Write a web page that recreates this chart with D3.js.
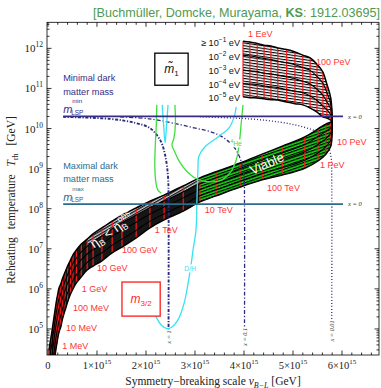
<!DOCTYPE html>
<html>
<head>
<meta charset="utf-8">
<script src="https://cdn.jsdelivr.net/npm/d3@7/dist/d3.min.js"></script>
<style>
  html, body { margin: 0; padding: 0; background: #ffffff; }
  svg { display: block; }
</style>
</head>
<body>
<svg id="chart" width="381" height="388"></svg>
<script>
// ---------------- data ----------------
// gravitino mass grid (GeV) along each band curve
const gravitinoMass = [1e-4,2e-4,5e-4,1e-3,2e-3,5e-3,1e-2,2e-2,5e-2,0.1,0.2,0.5,1,2,5,10,20,50,100,200,500,
  1e3,2e3,5e3,1e4,2e4,5e4,1e5,2e5,5e5,1e6,2e6,5e6,
  1e7,2e7,3e7,5e7,7e7,1e8,2e8,3e8,4e8,5e8,6e8,7e8,8e8,9e8,1e9];
// B-L breaking scale at each grid point, in units of 1e15 GeV
const vBL15 = [0.02,0.07,0.12,0.16,0.18,0.20,0.22,0.26,0.30,0.35,0.40,0.46,0.51,0.58,0.68,0.80,0.92,1.10,1.31,1.51,1.80,
  2.08,2.37,2.76,3.10,3.43,3.92,4.37,4.78,5.24,5.51,5.67,5.77,
  5.80,5.77,5.69,5.61,5.49,5.35,5.20,5.04,4.87,4.69,4.55,4.41,4.27,4.12,3.98];
// log10(T_rh / GeV) for each effective neutrino mass m1~
const m1Values = ["1e-1", "1e-2", "1e-3", "1e-4", "1e-5"]; // eV
const logTrh_m1_1e1 = [2.98,3.60,4.10,4.48,4.63,4.78,4.90,5.05,5.27,5.47,5.67,5.87,6.00,6.15,6.30,6.47,6.57,6.70,6.90,7.04,
  7.27,7.52,7.72,7.94,8.17,8.32,8.54,8.72,8.84,9.01,9.19,9.36,9.56,
  10.01,10.76,11.11,11.41,11.60,11.76,11.83,11.91,11.97,12.01,12.06,12.08,12.12,12.16,12.18];
const logTrh_m1_1e2 = [3.35,3.92,4.39,4.76,4.91,5.05,5.17,5.32,5.52,5.71,5.90,6.08,6.21,6.35,6.50,6.66,6.77,6.90,7.09,7.24,
  7.46,7.69,7.87,8.10,8.32,8.47,8.69,8.88,9.02,9.21,9.39,9.55,9.71,
  10.05,10.62,10.90,11.13,11.30,11.45,11.52,11.59,11.64,11.68,11.72,11.75,11.78,11.81,11.83];
const logTrh_m1_1e3 = [3.76,4.25,4.71,5.06,5.21,5.35,5.47,5.61,5.79,5.97,6.14,6.31,6.44,6.58,6.73,6.87,6.98,7.12,7.31,7.46,
  7.66,7.87,8.04,8.27,8.48,8.63,8.85,9.05,9.22,9.42,9.60,9.75,9.88,
  10.10,10.48,10.67,10.83,10.98,11.11,11.18,11.24,11.29,11.33,11.36,11.38,11.42,11.44,11.46];
const logTrh_m1_1e4 = [4.12,4.55,4.99,5.33,5.48,5.61,5.73,5.87,6.03,6.19,6.36,6.52,6.64,6.77,6.92,7.06,7.18,7.32,7.50,7.65,
  7.84,8.03,8.19,8.42,8.62,8.77,9.00,9.21,9.39,9.60,9.80,9.93,10.02,
  10.14,10.34,10.47,10.56,10.70,10.81,10.89,10.93,10.97,11.02,11.04,11.06,11.10,11.11,11.12];
const logTrh_m1_1e5 = [4.48,4.85,5.27,5.60,5.75,5.87,6.00,6.12,6.27,6.42,6.57,6.72,6.85,6.97,7.12,7.24,7.37,7.52,7.69,7.84,
  8.02,8.19,8.34,8.57,8.77,8.92,9.14,9.36,9.56,9.79,9.99,10.11,10.16,
  10.19,10.21,10.26,10.29,10.41,10.51,10.59,10.62,10.66,10.71,10.72,10.74,10.76,10.77,10.79];

// gravitino mass labels: text, v_{B-L} (1e15 GeV), log10 T
const m32LabelText = ["1 MeV","10 MeV","100 MeV","1 GeV","10 GeV","100 GeV","1 TeV","10 TeV","100 TeV","1 PeV","10 PeV","100 PeV","1 EeV"];
const m32LabelV    = [0.29,0.37,0.51,0.69,1.00,1.51,2.18,3.20,4.47,5.55,5.90,5.47,4.08];
const m32LabelLogT = [4.58,5.02,5.52,6.00,6.52,6.97,7.47,7.97,8.52,9.09,9.66,11.66,12.36];

// m1~ labels next to the upper branch
const m1LabelExp  = ["\u22121","\u22122","\u22123","\u22124","\u22125"];
const m1LabelLogT = [12.14, 11.79, 11.43, 11.10, 10.77];
const m1LabelV = 3.92;

// LSP mass bounds (reheating temperature lines, GeV)
const lspMinT = 2e10;
const lspMaxT = 1.3e8;
const lspLineV = [0.31, 6.02];

// dark matter contours for x = 1, 0.1, 0.01: [v (1e15 GeV), log10 T]
const contourX1 = [[0.31,10.29],[1.27,10.24],[1.78,10.14],[2.08,10.01],[2.29,9.71],[2.39,9.34],[2.45,8.79],[2.46,8.22],[2.46,4.90]];
const contourX01 = [[1.47,10.29],[2.08,10.24],[2.90,10.04],[3.45,9.86],[3.76,9.59],[3.92,9.26],[4.00,8.79],[4.01,8.22],[4.01,4.90]];
const contourX001 = [[3.10,10.29],[4.12,10.24],[4.73,10.16],[5.14,10.06],[5.49,9.91],[5.69,9.64],[5.78,9.26],[5.79,8.84],[5.79,5.05]];

// BBN bounds: D/H (cyan) and 4He (green)
const dhMain = [[3.84,10.54],[3.80,10.29],[3.69,10.01],[3.47,9.79],[3.20,9.54],[3.08,9.31],[3.06,8.97],[3.04,8.22],[3.02,7.47],
  [2.96,6.97],[2.92,6.60],[2.86,6.15],[2.78,5.65],[2.65,5.22],[2.53,5.05],[2.43,5.01],[2.31,5.10],[2.22,5.27],[2.14,5.52],[2.08,5.85]];
const dhSpike = [[2.33,10.59],[2.36,10.09],[2.39,9.64],[2.42,10.09],[2.45,10.59]];
const heLeft = [[2.22,10.59],[2.21,10.09],[2.19,9.59],[2.18,9.09],[2.20,8.67],[2.24,8.47],[2.31,8.39]];
const heMain = [[2.59,10.59],[2.60,10.09],[2.57,9.76],[2.53,9.59],[2.59,9.41],[2.69,9.16],[2.84,8.92],[3.04,8.74],[3.31,8.67],
  [3.55,8.72],[3.73,8.92],[3.84,9.21],[3.90,9.59],[3.94,10.09],[3.98,10.59]];

// axes
const xTickValues = [0,1,2,3,4,5,6];
const yTickExps = [5,6,7,8,9,10,11,12];

// ---------------- drawing ----------------
const svg = d3.select('#chart');
const defs = svg.append('defs');
const box = { x0: 47, x1: 379, y0: 22.3, y1: 355 };

const X = d3.scaleLinear().domain([-0.02, 6.755]).range([box.x0, box.x1]);
const Y = d3.scaleLog().domain([Math.pow(10, 4.35), Math.pow(10, 12.65)]).range([box.y1, box.y0]);
const P = (v, lt) => [X(v), Y(Math.pow(10, lt))];

defs.append('clipPath').attr('id', 'plotClip')
  .append('rect').attr('x', box.x0).attr('y', box.y0)
  .attr('width', box.x1 - box.x0).attr('height', box.y1 - box.y0);

function hatch(id, bg, ink, angle, gap, lw) {
  const p = defs.append('pattern').attr('id', id).attr('patternUnits', 'userSpaceOnUse')
    .attr('width', 8).attr('height', gap).attr('patternTransform', `rotate(${angle})`);
  p.append('rect').attr('width', 8).attr('height', gap).attr('fill', bg);
  p.append('rect').attr('width', 8).attr('height', lw).attr('fill', ink);
}
hatch('fanHatch', '#ffffff', '#000000', 8, 2.7, 1.1);
hatch('greenHatch', '#18d418', '#000000', -19, 2.8, 1.2);
hatch('greyHatch', '#cfcfcf', '#111111', -30, 2.6, 1.3);

svg.append('rect').attr('width', 381).attr('height', 388).attr('fill', '#ffffff');

const plot = svg.append('g').attr('clip-path', 'url(#plotClip)');

// band of reheating temperatures
const bandCurves = [logTrh_m1_1e1, logTrh_m1_1e2, logTrh_m1_1e3, logTrh_m1_1e4, logTrh_m1_1e5];
const bandPts = bandCurves.map(c => c.map((lt, i) => P(vBL15[i], lt)));
const smooth = d3.line().curve(d3.curveCatmullRom.alpha(0.5));
function strip(kA, kB, a, b) {
  const fwd = smooth(bandPts[kA].slice(a, b + 1));
  const back = smooth(bandPts[kB].slice(a, b + 1).reverse());
  return fwd + 'L' + back.slice(1) + 'Z';
}
const iTeV10 = gravitinoMass.indexOf(1e4);
const iPeV10 = gravitinoMass.indexOf(1e7);
const iGeV10 = gravitinoMass.indexOf(10);
const iLast = gravitinoMass.length - 1;
const bandG = plot.append('g');
bandG.append('path').attr('d', strip(0, 4, 0, iTeV10)).attr('fill', '#161616');
bandG.append('path').attr('d', strip(3, 4, iGeV10, iTeV10)).attr('fill', 'url(#greyHatch)');
bandG.append('path').attr('d', strip(0, 4, iTeV10, iPeV10)).attr('fill', 'url(#greenHatch)');
bandG.append('path').attr('d', strip(0, 4, iPeV10, iLast)).attr('fill', 'url(#fanHatch)');

// constant gravitino mass lines
gravitinoMass.forEach((m, i) => {
  bandG.append('path').attr('d', d3.line()(bandPts.map(c => c[i])))
    .attr('fill', 'none').attr('stroke', '#ff1a1a').attr('stroke-width', 1.2);
});
// constant m1~ curves
bandPts.forEach((pts, k) => {
  bandG.append('path').attr('d', smooth(pts)).attr('fill', 'none')
    .attr('stroke', '#000').attr('stroke-width', (k === 0 || k === 4) ? 1.5 : 1.1);
});

// dark matter contours
const dataLine = d3.line().x(d => X(d[0])).y(d => Y(Math.pow(10, d[1]))).curve(d3.curveCatmullRom.alpha(0.5));
const navy = '#2b2a80';
plot.append('path').attr('d', dataLine(contourX1)).attr('fill', 'none').attr('stroke', navy)
  .attr('stroke-width', 1.9).attr('stroke-dasharray', '3,1.6,1.2,1.6');
plot.append('path').attr('d', dataLine(contourX01)).attr('fill', 'none').attr('stroke', navy)
  .attr('stroke-width', 1.3).attr('stroke-dasharray', '4,2,1.2,2');
plot.append('path').attr('d', dataLine(contourX001)).attr('fill', 'none').attr('stroke', navy)
  .attr('stroke-width', 1.3).attr('stroke-dasharray', '1,2');

// BBN bounds
const cyan = '#36e2f2', lime = '#3ede3e';
[dhMain, dhSpike].forEach(c => plot.append('path').attr('d', dataLine(c)).attr('fill', 'none')
  .attr('stroke', cyan).attr('stroke-width', 1.3));
[heLeft, heMain].forEach(c => plot.append('path').attr('d', dataLine(c)).attr('fill', 'none')
  .attr('stroke', lime).attr('stroke-width', 1.3));

// LSP mass lines
const minColor = '#3a2d86', maxColor = '#2d6b8c';
[[lspMinT, minColor], [lspMaxT, maxColor]].forEach(([t, col]) => {
  plot.append('line').attr('x1', X(lspLineV[0])).attr('x2', X(lspLineV[1]))
    .attr('y1', Y(t)).attr('y2', Y(t)).attr('stroke', col).attr('stroke-width', 1.7);
  plot.append('text').attr('x', X(lspLineV[1]) + 5).attr('y', Y(t) + 2.2)
    .attr('font-family', 'Liberation Serif').attr('font-style', 'italic').attr('font-size', 6.5)
    .attr('fill', '#333').text('x = 0');
});

// LSP annotations
function lspBlock(t, col, word, sup) {
  const y0 = Y(t);
  const g = plot.append('g').attr('fill', col).attr('font-family', 'Liberation Sans');
  g.append('text').attr('x', X(lspLineV[0])).attr('y', y0 - 35.5).attr('font-size', 9.2).text(word + ' dark');
  g.append('text').attr('x', X(lspLineV[0])).attr('y', y0 - 21.8).attr('font-size', 9.2).text('matter mass');
  g.append('text').attr('x', X(lspLineV[0])).attr('y', y0 - 3.5).attr('font-size', 11).attr('font-style', 'italic').text('m');
  g.append('text').attr('x', X(lspLineV[0]) + 9).attr('y', y0 - 13).attr('font-size', 6.2).text(sup);
  g.append('text').attr('x', X(lspLineV[0]) + 8).attr('y', y0 - 1.8).attr('font-size', 6.5).text('LSP');
}
lspBlock(lspMinT, minColor, 'Minimal', 'min');
lspBlock(lspMaxT, maxColor, 'Maximal', 'max');

// rotated contour tags
function vtag(v, lt, txt, w) {
  const [px, py] = P(v, lt);
  const g = plot.append('g').attr('transform', `translate(${px},${py}) rotate(-90)`);
  g.append('rect').attr('x', -w / 2).attr('y', -3.5).attr('width', w).attr('height', 7).attr('fill', '#fff');
  g.append('text').attr('text-anchor', 'middle').attr('y', 2.2).attr('font-family', 'Liberation Serif')
    .attr('font-style', 'italic').attr('font-size', 6.3).attr('fill', '#333').text(txt);
}
vtag(2.46, 4.80, 'x = 1', 15);
vtag(4.01, 4.80, 'x = 0.1', 18);
vtag(5.79, 4.95, 'x = 0.01', 23);

// BBN tags
function tag(v, lt, col, build, w) {
  const [px, py] = P(v, lt);
  plot.append('rect').attr('x', px - w / 2).attr('y', py - 4).attr('width', w).attr('height', 8).attr('fill', '#fff');
  const t = plot.append('text').attr('x', px).attr('y', py + 2.5).attr('text-anchor', 'middle')
    .attr('font-family', 'Liberation Sans').attr('font-size', 6.8).attr('fill', col);
  build(t);
}
tag(2.90, 6.51, cyan, t => t.text('D/H'), 15);
tag(3.84, 9.63, lime, t => {
  t.append('tspan').attr('font-size', 5).attr('dy', -2.5).text('4');
  t.append('tspan').attr('dy', 2.5).text('He');
}, 13);

// gravitino mass labels
m32LabelText.forEach((s, i) => {
  const [px, py] = P(m32LabelV[i], m32LabelLogT[i]);
  plot.append('text').attr('x', px).attr('y', py + 3.2).attr('font-family', 'Liberation Sans')
    .attr('font-size', 9).attr('fill', '#ff3535').text(s);
});

// m1~ labels
m1LabelExp.forEach((e, i) => {
  const [px, py] = P(m1LabelV, m1LabelLogT[i]);
  const t = plot.append('text').attr('x', px).attr('y', py + 3.2).attr('text-anchor', 'end')
    .attr('font-family', 'Liberation Sans').attr('font-size', 9.2).attr('fill', '#111');
  t.append('tspan').text(i === 0 ? '\u2265 10' : '10');
  t.append('tspan').attr('font-size', 6.5).attr('dy', -4).text(e);
  t.append('tspan').attr('dy', 4).text(' eV');
});

// region labels on the band
{
  const [vx, vy] = [267, 164];
  plot.append('text').attr('transform', `translate(${vx},${vy}) rotate(-24)`).attr('text-anchor', 'middle')
    .attr('y', 4).attr('font-family', 'Liberation Sans').attr('font-size', 13).attr('fill', '#fff').text('Viable');
  const t = plot.append('text').attr('transform', `translate(112,231) rotate(-35)`).attr('text-anchor', 'middle')
    .attr('y', 4).attr('font-family', 'Liberation Sans').attr('font-size', 13).attr('fill', '#fff');
  t.append('tspan').text('\u03b7');
  t.append('tspan').attr('font-size', 8.5).attr('dy', 3).text('B');
  t.append('tspan').attr('dy', -3).text(' < \u03b7');
  t.append('tspan').attr('font-size', 8.5).attr('dy', 3).text('B');
  t.append('tspan').attr('font-size', 8.5).attr('dx', -5).attr('dy', -10).text('obs');
}

// legend boxes
{
  const [ax, ay] = P(2.18, 11.88), [bx, by] = P(2.86, 11.08);
  plot.append('rect').attr('x', ax).attr('y', ay).attr('width', bx - ax).attr('height', by - ay)
    .attr('fill', '#fff').attr('stroke', '#000').attr('stroke-width', 1.3);
  const t = plot.append('text').attr('x', (ax + bx) / 2).attr('y', (ay + by) / 2 + 4).attr('text-anchor', 'middle')
    .attr('font-family', 'Liberation Sans').attr('font-size', 12).attr('fill', '#111');
  t.append('tspan').attr('font-style', 'italic').text('m\u0303');
  t.append('tspan').attr('font-size', 8).attr('dy', 3).text('1');

  const [cx, cy] = P(1.51, 6.17), [dx, dy] = P(2.29, 5.32);
  plot.append('rect').attr('x', cx).attr('y', cy).attr('width', dx - cx).attr('height', dy - cy)
    .attr('fill', '#fff').attr('stroke', '#ff2a2a').attr('stroke-width', 1.4);
  const u = plot.append('text').attr('x', (cx + dx) / 2).attr('y', (cy + dy) / 2 + 4).attr('text-anchor', 'middle')
    .attr('font-family', 'Liberation Sans').attr('font-size', 12).attr('fill', '#ff2a2a');
  u.append('tspan').attr('font-style', 'italic').text('m');
  u.append('tspan').attr('font-size', 8).attr('dy', 3).text('3/2');
}

// frame and ticks
const axes = svg.append('g').attr('stroke', '#000').attr('stroke-width', 0.8);
axes.append('rect').attr('x', box.x0).attr('y', box.y0).attr('width', box.x1 - box.x0)
  .attr('height', box.y1 - box.y0).attr('fill', 'none');
d3.range(0, 6.76, 0.2).forEach(v => {
  const major = Math.abs(v - Math.round(v)) < 1e-6;
  const L = major ? 4.5 : 2.5, px = X(v);
  axes.append('line').attr('x1', px).attr('x2', px).attr('y1', box.y1).attr('y2', box.y1 - L);
  axes.append('line').attr('x1', px).attr('x2', px).attr('y1', box.y0).attr('y2', box.y0 + L);
});
for (let e = 4; e <= 12; e++) {
  for (let k = 1; k <= 9; k++) {
    const val = k * Math.pow(10, e);
    if (val < Y.domain()[0] || val > Y.domain()[1]) continue;
    const L = k === 1 ? 4.5 : 2.5, py = Y(val);
    axes.append('line').attr('x1', box.x0).attr('x2', box.x0 + L).attr('y1', py).attr('y2', py);
    axes.append('line').attr('x1', box.x1).attr('x2', box.x1 - L).attr('y1', py).attr('y2', py);
  }
}

// tick labels
const labels = svg.append('g').attr('font-family', 'Liberation Serif').attr('fill', '#222');
yTickExps.forEach(e => {
  const t = labels.append('text').attr('x', 43).attr('y', Y(Math.pow(10, e)) + 4).attr('text-anchor', 'end')
    .attr('font-size', 11);
  t.append('tspan').text('10');
  t.append('tspan').attr('font-size', 7.5).attr('dy', -5).text(e);
});
xTickValues.forEach(v => {
  const t = labels.append('text').attr('x', X(v)).attr('y', 369).attr('text-anchor', 'middle').attr('font-size', 10.5);
  if (v === 0) { t.text('0'); return; }
  t.append('tspan').text(v + '\u00d710');
  t.append('tspan').attr('font-size', 7).attr('dy', -5).text('15');
});

// axis titles
{
  const t = labels.append('text').attr('x', 213).attr('y', 385).attr('text-anchor', 'middle').attr('font-size', 11.5);
  t.append('tspan').text('Symmetry\u2212breaking scale ');
  t.append('tspan').attr('font-style', 'italic').text('v');
  t.append('tspan').attr('font-size', 8).attr('dy', 2.5).attr('font-style', 'italic').text('B\u2212L');
  t.append('tspan').attr('dy', -2.5).text(' [GeV]');

  const s = labels.append('text').attr('transform', 'translate(15,200) rotate(-90)').attr('text-anchor', 'middle')
    .attr('font-size', 11.5).attr('word-spacing', 5);
  s.append('tspan').text('Reheating temperature ');
  s.append('tspan').attr('font-style', 'italic').text('T');
  s.append('tspan').attr('font-size', 8).attr('dy', 2.5).text('rh');
  s.append('tspan').attr('dy', -2.5).text(' [GeV]');
}

// citation
{
  const t = svg.append('text').attr('x', 380).attr('y', 16.5).attr('text-anchor', 'end')
    .attr('font-family', 'Liberation Sans').attr('font-size', 12.6).attr('fill', '#4f9a4f');
  t.append('tspan').text('[Buchm\u00fcller, Domcke, Murayama, ');
  t.append('tspan').attr('font-weight', 'bold').text('KS');
  t.append('tspan').text(': 1912.03695]');
}
</script>
</body>
</html>
